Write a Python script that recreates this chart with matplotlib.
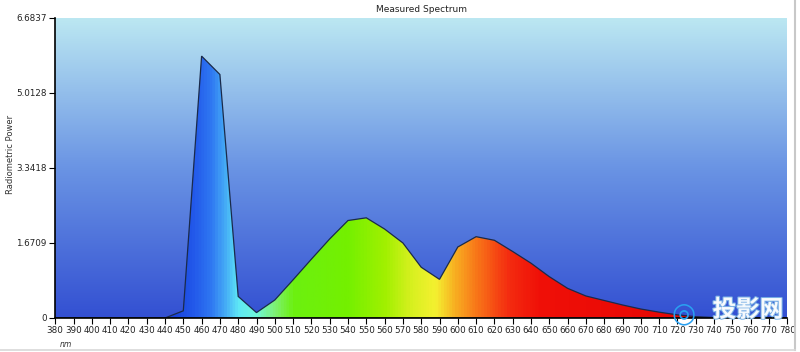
import matplotlib.pyplot as plt
import matplotlib.patheffects as pe
import numpy as np
from matplotlib.colors import LinearSegmentedColormap
from matplotlib.lines import Line2D
from matplotlib.patches import Polygon

# measured spectrum, every 10 nm
wavelength = np.arange(380, 790, 10)
power = [0, 0, 0, 0, 0, 0, 0, 0.16, 5.83, 5.42,
         0.48, 0.12, 0.40, 0.85, 1.31, 1.76, 2.17, 2.23, 1.98, 1.67,
         1.13, 0.86, 1.58, 1.81, 1.73, 1.48, 1.22, 0.92, 0.66, 0.49,
         0.39, 0.29, 0.20, 0.13, 0.07, 0.03, 0.01, 0, 0, 0, 0]
yticks = [0, 1.6709, 3.3418, 5.0128, 6.6837]
ytick_labels = ['0', '1.6709', '3.3418', '5.0128', '6.6837']
xticks = np.arange(380, 790, 10)

ymax = 6.6837

fig = plt.figure(figsize=(8, 3.52), dpi=100)
ax = fig.add_axes([0.069, 0.0966, 0.915, 0.853])

# background gradient
bg_cmap = LinearSegmentedColormap.from_list(
    'bg', [(0, '#3350d2'), (0.5, '#6a94e4'), (1, '#bce8f2')])
grad = np.linspace(0, 1, 256)[:, None]
ax.imshow(grad, cmap=bg_cmap, origin='lower', aspect='auto',
          extent=(380, 780, 0, ymax), zorder=0)

# spectrum colours by wavelength
stops = [(380, '#1636c8'), (445, '#1a44dc'), (455, '#2258ea'), (465, '#2f78f2'),
         (472, '#44a8f6'), (480, '#5ee8f6'), (490, '#70f8d8'), (500, '#7ef070'),
         (510, '#6cf010'), (540, '#74f000'), (560, '#a0f000'), (575, '#d8f020'),
         (588, '#f4f030'), (600, '#f8a820'), (612, '#f87018'), (628, '#f42c10'),
         (645, '#f01008'), (780, '#e00000')]
spec_cmap = LinearSegmentedColormap.from_list(
    'spec', [((w - 380) / 400, c) for w, c in stops])
xs = np.linspace(0, 1, 800)[None, :]
im = ax.imshow(xs, cmap=spec_cmap, aspect='auto',
               extent=(380, 780, 0, ymax), zorder=1)

verts = list(zip(wavelength, power)) + [(780, 0), (380, 0)]
poly = Polygon(verts, closed=True, facecolor='none',
               edgecolor='#1a2a4a', linewidth=0.9, zorder=2)
ax.add_patch(poly)
im.set_clip_path(poly)

ax.set_xlim(380, 780)
ax.set_ylim(0, ymax)
ax.set_xticks(xticks)
ax.set_xticklabels([str(v) for v in xticks], fontsize=6.3, color='#222222')
ax.set_yticks(yticks)
ax.set_yticklabels(ytick_labels, fontsize=6.3, color='#222222')
ax.tick_params(axis='both', direction='out', length=4, width=0.8, pad=2)
for s in ['top', 'right']:
    ax.spines[s].set_visible(False)
for s in ['left', 'bottom']:
    ax.spines[s].set_linewidth(1.2)
    ax.spines[s].set_color('black')

ax.set_title('Measured Spectrum', fontsize=6.5, pad=4, color='#222222')
fig.text(0.013, 0.56, 'Radiometric Power', fontsize=6, color='#333333',
         rotation=90, ha='center', va='center')
fig.text(0.075, 0.015, 'nm', fontsize=5.5, style='italic', color='#333333')

# thin window frame lines
fig.add_artist(Line2D([0.994, 0.994], [0.005, 1], transform=fig.transFigure,
                      color='#c8c8c8', linewidth=1.5))
fig.add_artist(Line2D([0, 0.994], [0.006, 0.006], transform=fig.transFigure,
                      color='#d8d8d8', linewidth=1.2))

# watermark
fig.text(0.935, 0.12, '投影网', fontsize=17, fontweight='bold', color='white',
         family=['Noto Sans CJK SC', 'DejaVu Sans'], ha='center', va='center',
         alpha=0.9,
         path_effects=[pe.withStroke(linewidth=1.5, foreground='#7fb6e6')])
fig.text(0.855, 0.11, '◎', fontsize=20, color='#2aa0f0', ha='center',
         va='center', family=['DejaVu Sans'])

fig.savefig('out.png', dpi=100)
